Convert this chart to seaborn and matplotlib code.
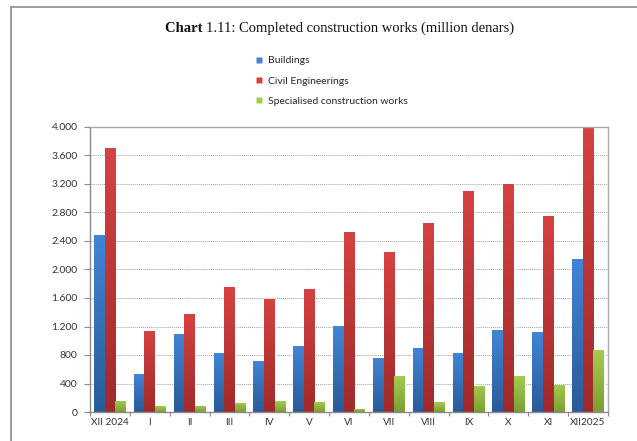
import numpy as np
import pandas as pd
import matplotlib
matplotlib.use("Agg")
import matplotlib.pyplot as plt
from matplotlib.colors import LinearSegmentedColormap
from matplotlib.lines import Line2D
from matplotlib.ticker import FuncFormatter, MultipleLocator, FixedLocator
import seaborn as sns

# Monthly values, million denars
months = ["XII 2024", "I", "II", "III", "IV", "V", "VI", "VII", "VIII", "IX", "X", "XI", "XII2025"]
buildings = [2480, 533, 1095, 828, 720, 930, 1207, 758, 898, 824, 1151, 1127, 2147]
civil_eng = [3700, 1137, 1375, 1754, 1586, 1730, 2530, 2250, 2648, 3106, 3200, 2746, 4000]
specialised = [155, 84, 90, 130, 154, 136, 46, 505, 140, 365, 505, 379, 866]
series = ["Buildings", "Civil Engineerings", "Specialised construction works"]

df = pd.DataFrame({
    "month": months * 3,
    "series": [series[0]] * 13 + [series[1]] * 13 + [series[2]] * 13,
    "value": buildings + civil_eng + specialised,
})

# (bottom, top) shades for each series
shades = {
    series[0]: ("#2a5b98", "#4285d6"),
    series[1]: ("#a02a2a", "#d64242"),
    series[2]: ("#7b9e33", "#a3cc4f"),
}
mid = {s: c[1] for s, c in shades.items()}

sns.set_theme(style="white")
plt.rcParams["font.family"] = ["Lato", "DejaVu Sans"]

fig = plt.figure(figsize=(6.37, 4.41), dpi=100)
ax = fig.add_axes([90 / 637, 1 - 412 / 441, 518 / 637, 285 / 441])

sns.barplot(data=df, x="month", y="value", hue="series", order=months,
            hue_order=series, palette=mid, width=0.8, saturation=1,
            errorbar=None, legend=False, ax=ax)

# vertical gradient fill clipped to each bar
grad = np.linspace(0, 1, 256).reshape(-1, 1)
for container, s in zip(ax.containers, series):
    cmap = LinearSegmentedColormap.from_list(s, list(shades[s]))
    for patch in container.patches:
        x, w, h = patch.get_x(), patch.get_width(), patch.get_height()
        im = ax.imshow(grad, cmap=cmap, origin="lower", aspect="auto",
                       extent=[x, x + w, 0, h], zorder=patch.get_zorder() + 0.1,
                       interpolation="bilinear")
        im.set_clip_path(patch)

ax.set_xlim(-0.5, len(months) - 0.5)
ax.set_ylim(0, 4000)
ax.yaxis.set_major_locator(MultipleLocator(400))
ax.yaxis.set_major_formatter(FuncFormatter(lambda v, p: f"{int(v):,}".replace(",", ".")))
ax.set_xlabel("")
ax.set_ylabel("")

ax.grid(axis="y", color="#a0a0a0", linestyle=(0, (1, 1)), linewidth=0.7)
ax.set_axisbelow(True)
for side, sp in ax.spines.items():
    sp.set_visible(True)
    sp.set_color("#a8a8a8")
    sp.set_linewidth(1.0)
ax.spines["left"].set_color("#8a8a8a")
ax.spines["bottom"].set_color("#8a8a8a")

ax.tick_params(axis="y", which="major", left=True, length=4, width=0.8,
               color="#8a8a8a", labelsize=7.5, labelcolor="#333333", pad=5)
ax.tick_params(axis="x", which="major", bottom=False, length=0,
               labelsize=7.2, labelcolor="#333333", pad=4)
ax.xaxis.set_minor_locator(FixedLocator(np.arange(-0.5, len(months), 1.0)))
ax.tick_params(axis="x", which="minor", bottom=True, length=3, width=0.8, color="#8a8a8a")

# title: bold lead word followed by regular text, centred as one line
title_y = 1 - 28 / 441
renderer = fig.canvas.get_renderer()
t_bold = fig.text(0, title_y, "Chart ", ha="left", va="center", fontsize=10.5,
                  fontweight="bold", family=["Liberation Serif"], color="#111111")
t_rest = fig.text(0, title_y, "1.11: Completed construction works (million denars)",
                  ha="left", va="center", fontsize=10.5, family=["Liberation Serif"], color="#111111")
wb = t_bold.get_window_extent(renderer).width / fig.bbox.width
wr = t_rest.get_window_extent(renderer).width / fig.bbox.width
x0 = 340 / 637 - (wb + wr) / 2
t_bold.set_x(x0)
t_rest.set_x(x0 + wb)

handles = [Line2D([], [], marker="s", linestyle="none", markersize=5,
                  markerfacecolor=mid[s], markeredgecolor="none") for s in series]
fig.legend(handles, series, loc="upper left", bbox_to_anchor=(254 / 637, 1 - 56 / 441),
           frameon=False, fontsize=7.5, labelspacing=1.05, handletextpad=0.3,
           handlelength=1.0, borderaxespad=0, borderpad=0)

# outer frame lines
fig.add_artist(Line2D([11 / 637, 11 / 637], [0, 1 - 7 / 441], transform=fig.transFigure,
                      color="#8c8c8c", linewidth=1.2))
fig.add_artist(Line2D([11 / 637, 1], [1 - 7 / 441, 1 - 7 / 441], transform=fig.transFigure,
                      color="#8c8c8c", linewidth=1.2))

fig.savefig("out.png", dpi=100)
